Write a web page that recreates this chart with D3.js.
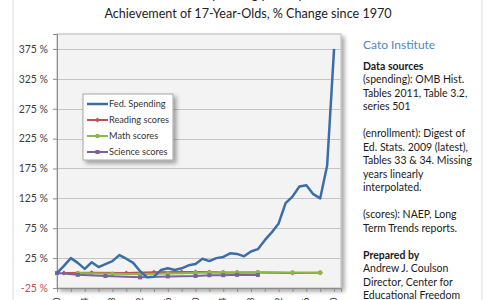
<!DOCTYPE html>
<html><head><meta charset="utf-8">
<script src="https://cdn.jsdelivr.net/npm/d3@7"></script>
<style>body{margin:0;background:#fff} svg{display:block}</style>
</head><body><svg id="c" width="500" height="300"></svg>
<script>
// ---- data ----
const spendYears = d3.range(1970, 2011);
const spending = [0,12,25,17,7,18,10,15,20,30,24,17,3,-7,-6,5,8,5,8,13,15,24,20,25,27,33,32,28,36,40,55,68,83,117,128,145,147,132,125,180,375];
const readingYears = [1971,1975,1980,1984,1988,1990,1992,1994,1996,1999,2004,2008];
const reading = [0,0.4,0,1.4,1.8,1.8,1.8,1.1,1.1,1.1,0,0.4];
const mathYears = [1973,1978,1982,1986,1990,1992,1994,1996,1999,2004,2008];
const math = [0,-1.3,-2,-0.7,0.3,1,0.7,1,1.3,1,0.7];
const scienceYears = [1970,1973,1977,1982,1986,1990,1992,1994,1996,1999];
const science = [0,-3,-4.9,-7.2,-5.6,-4.9,-3.6,-3.6,-3,-3.3];
const yTicks = [-25,25,75,125,175,225,275,325,375];
const xLabelYears = d3.range(1970, 2011, 4);
const seriesNames = ["Fed. Spending","Reading scores","Math scores","Science scores"];
const titleLines = ["Trends in Federal Spending per Pupil and Academic","Achievement of 17-Year-Olds, % Change since 1970"];
const noteLines = [
 {t:"Cato Institute", k:"head"},
 {t:"Data sources", k:"bold"},
 {t:"(spending): OMB Hist."},{t:"Tables 2011, Table 3.2,"},{t:"series 501"},{t:""},
 {t:"(enrollment): Digest of"},{t:"Ed. Stats. 2009 (latest),"},{t:"Tables 33 & 34. Missing"},{t:"years linearly"},{t:"interpolated."},{t:""},
 {t:"(scores): NAEP, Long"},{t:"Term Trends reports."},{t:""},
 {t:"Prepared by", k:"bold"},{t:"Andrew J. Coulson"},{t:"Director, Center for"},{t:"Educational Freedom"}
];

// ---- layout ----
const svg = d3.select("#c");
const FONT = "Lato, 'Open Sans', sans-serif";
const colors = ["#3b6ea8","#c0504d","#8cb84a","#7a62a0"];
const L=57, R=341, T=34, B=288;
const x = d3.scaleLinear().domain([1970,2011]).range([L,R]);
const y = d3.scaleLinear().domain([-25,400]).range([B,T]);

const defs = svg.append("defs");
const f = defs.append("filter").attr("id","sh").attr("x","-10%").attr("y","-10%").attr("width","130%").attr("height","130%");
f.append("feDropShadow").attr("dx",3).attr("dy",3).attr("stdDeviation",2).attr("flood-color","#000").attr("flood-opacity",0.35);

// chart frame
svg.append("line").attr("x1",13).attr("x2",13).attr("y1",0).attr("y2",300).attr("stroke","#dadada");
svg.append("line").attr("x1",482).attr("x2",482).attr("y1",0).attr("y2",300).attr("stroke","#dadada");

// title
svg.append("text").attr("x",250).attr("y",-1.5).attr("text-anchor","middle").attr("font-family",FONT).attr("font-size",13).attr("fill","#222").text(titleLines[0]);
svg.append("text").attr("x",248).attr("y",17.5).attr("text-anchor","middle").attr("font-family",FONT).attr("font-size",12.6).attr("fill","#222").text(titleLines[1]);

// plot area
svg.append("rect").attr("x",L).attr("y",T).attr("width",R-L).attr("height",B-T).attr("fill","#f3f3f3").attr("stroke","#b8b8b8").attr("stroke-width",1).attr("filter","url(#sh)");

// gridlines
svg.append("g").selectAll("line").data(yTicks).join("line")
  .attr("x1",L).attr("x2",R).attr("y1",d=>Math.round(y(d))+0.5).attr("y2",d=>Math.round(y(d))+0.5)
  .attr("stroke","#c4c4c4").attr("stroke-width",1);

// y axis
const ya = svg.append("g").attr("transform",`translate(${L},0)`)
  .call(d3.axisLeft(y).tickValues(yTicks).tickSize(4).tickPadding(5).tickFormat(d=>d+" %"));
ya.select(".domain").attr("stroke","#8c8c8c");
ya.selectAll(".tick line").attr("stroke","#8c8c8c");
ya.selectAll("text").attr("font-family",FONT).attr("font-size",10.5).attr("fill",d=>d<0?"#c0504d":"#404040");

// x axis
const xa = svg.append("g").attr("transform",`translate(0,${B})`)
  .call(d3.axisBottom(x).tickValues(d3.range(1970,2012,2)).tickSize(4).tickFormat(""));
xa.select(".domain").attr("stroke","#8c8c8c");
xa.selectAll(".tick line").attr("stroke","#8c8c8c");
svg.append("g").selectAll("text").data(xLabelYears).join("text")
  .attr("transform",d=>`translate(${x(d)+3},297.5) rotate(-90)`)
  .attr("text-anchor","end").attr("font-family",FONT).attr("font-size",10).attr("fill","#404040").text(d=>d);

// series
const line = d3.line().x(d=>x(d[0])).y(d=>y(d[1]));
const scoreSets = [
  {yrs:readingYears, v:reading, c:colors[1], m:"diamond"},
  {yrs:mathYears, v:math, c:colors[2], m:"circle"},
  {yrs:scienceYears, v:science, c:colors[3], m:"square"}
];
function marker(g, type, c, cx, cy){
  if(type==="circle") g.append("circle").attr("cx",cx).attr("cy",cy).attr("r",2.3).attr("fill",c);
  else if(type==="square") g.append("rect").attr("x",cx-2).attr("y",cy-2).attr("width",4).attr("height",4).attr("fill",c);
  else g.append("rect").attr("x",cx-1.8).attr("y",cy-1.8).attr("width",3.6).attr("height",3.6).attr("fill",c).attr("transform",`rotate(45,${cx},${cy})`);
}
scoreSets.forEach(s=>{
  const pts = s.yrs.map((yr,i)=>[yr,s.v[i]]);
  const g = svg.append("g");
  g.append("path").attr("d",line(pts)).attr("fill","none").attr("stroke",s.c).attr("stroke-width",2);
  pts.forEach(p=>marker(g,s.m,s.c,x(p[0]),y(p[1])));
});
svg.append("path").attr("d",line(spendYears.map((yr,i)=>[yr,spending[i]])))
  .attr("fill","none").attr("stroke",colors[0]).attr("stroke-width",2.5).attr("stroke-linejoin","round");

// legend
const lg = svg.append("g");
lg.append("rect").attr("x",83).attr("y",94).attr("width",90).attr("height",66).attr("fill","#fff").attr("stroke","#a6a6a6").attr("filter","url(#sh)");
const lm = ["none","diamond","circle","square"];
seriesNames.forEach((n,i)=>{
  const yy = 104 + i*16;
  lg.append("line").attr("x1",87).attr("x2",108).attr("y1",yy).attr("y2",yy).attr("stroke",colors[i]).attr("stroke-width",i===0?2.5:2);
  if(i>0) marker(lg,lm[i],colors[i],97.5,yy);
  lg.append("text").attr("x",109).attr("y",yy+3.2).attr("font-family",FONT).attr("font-size",9.2).attr("fill","#333").text(n);
});

// side notes
const ng = svg.append("g");
let yy = 49;
noteLines.forEach((d,i)=>{
  ng.append("text").attr("x",363).attr("y",yy).attr("font-family",FONT).attr("fill",d.k==="head"?"#4f86c0":"#1a1a1a")
    .attr("font-size",d.k==="head"?12:10.5).attr("font-weight",d.k==="bold"?"bold":"normal").text(d.t);
  yy += (i===0)? 20.5 : 13.5;
});
</script></body></html>
